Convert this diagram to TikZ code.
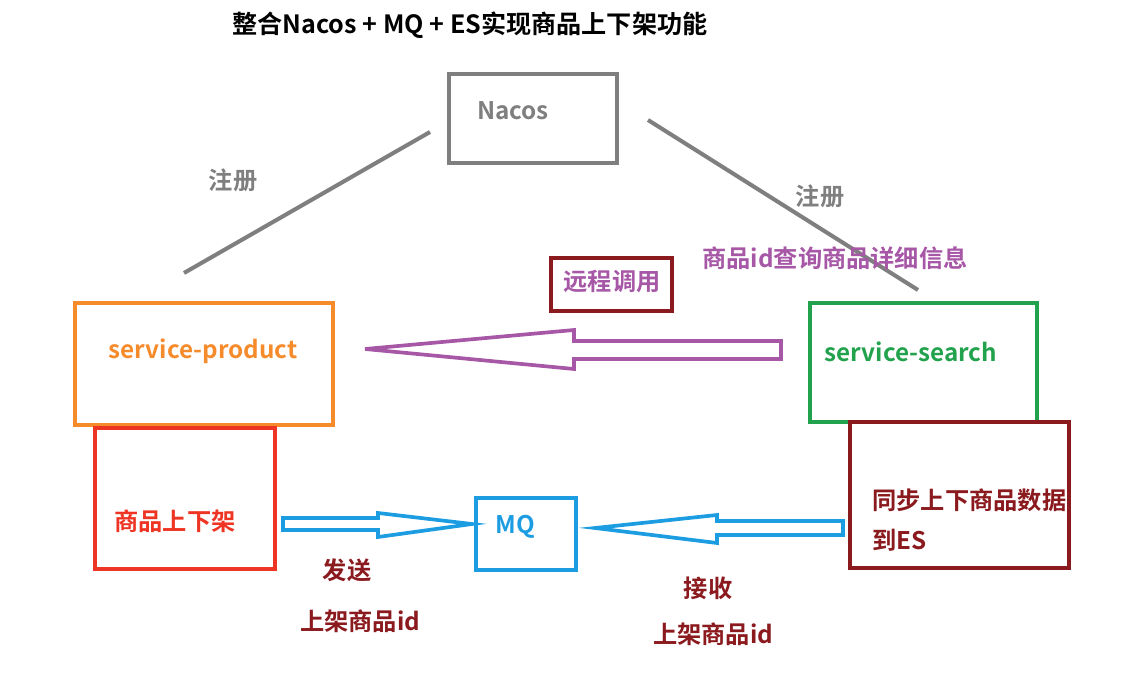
\documentclass[tikz,border=0pt]{standalone}
\usepackage{fontspec}
\setmainfont{Noto Sans CJK SC}[BoldFont={Noto Sans CJK SC Bold}]
\definecolor{gry}{HTML}{7F7F7F}
\definecolor{org}{HTML}{F68B2C}
\definecolor{grn}{HTML}{22A24C}
\definecolor{drd}{HTML}{8B1A1E}
\definecolor{pur}{HTML}{A657A6}
\definecolor{rd}{HTML}{EE3524}
\definecolor{blu}{HTML}{1C9DE2}
\begin{document}
\begin{tikzpicture}[x=0.02cm,y=-0.02cm,
  box/.style={draw,line width=2.3pt},
  lbl/.style={font=\bfseries\fontsize{13.8}{16}\selectfont,inner sep=0pt},
  fat/.style={line width=2.1pt,line join=miter}]
\useasboundingbox (0,0) rectangle (1147,692);
% title
\node[lbl,font=\bfseries\fontsize{14.3}{17}\selectfont] (title) at (470,25) {整合Nacos + MQ + ES实现商品上下架功能};
% boxes
\draw[box,gry] (449,74) rectangle (617,163);
\node[lbl,gry] (nacos) at (513,111) {Nacos};
\draw[box,org] (75,303) rectangle (333,425);
\node[lbl,org] (prod) at (203,351) {service-product};
\draw[box,grn] (810,303) rectangle (1037,422);
\node[lbl,grn] (search) at (911,352) {service-search};
\draw[box,drd] (551,258) rectangle (672,311);
\node[lbl,pur] (remote) at (612,281) {远程调用};
\draw[box,rd] (95,428) rectangle (275,569);
\node[lbl,rd] (updown) at (175,521) {商品上下架};
\draw[box,blu] (476,498) rectangle (576,570);
\node[lbl,blu] (mq) at (515,527) {MQ};
\draw[box,drd] (850,422) rectangle (1069,568);
\node[lbl,drd,anchor=west] (sync1) at (872,500) {同步上下商品数据};
\node[lbl,drd,anchor=west] (sync2) at (872,540) {到ES};
% registration lines
\coordinate (r1a) at (430,132); \coordinate (r1b) at (184,273);
\coordinate (r2a) at (648,120); \coordinate (r2b) at (918,290);
\draw[gry,line width=2.3pt] (r1a) -- (r1b);
\draw[gry,line width=2.3pt] (r2a) -- (r2b);
\node[lbl,gry] (reg1) at (233,180) {注册};
\node[lbl,gry] (reg2) at (820,196) {注册};
\node[lbl,pur] (query) at (835,258) {商品id查询商品详细信息};
% block arrows
\draw[fat,pur] (781,341) -- (574,341) -- (574,330) -- (365,349) -- (574,369) -- (574,359) -- (781,359) -- cycle;
\draw[fat,blu] (283,518) -- (378,518) -- (378,513) -- (472,524) -- (378,537) -- (378,530) -- (283,530) -- cycle;
\draw[fat,blu] (843,521) -- (717,521) -- (717,515) -- (595,528) -- (717,543) -- (717,535) -- (843,535) -- cycle;
% arrow labels
\node[lbl,drd] (send) at (347,570) {发送};
\node[lbl,drd] (sendid) at (360,621) {上架商品id};
\node[lbl,drd] (recv) at (708,588) {接收};
\node[lbl,drd] (recvid) at (713,634) {上架商品id};
\end{tikzpicture}
\end{document}
